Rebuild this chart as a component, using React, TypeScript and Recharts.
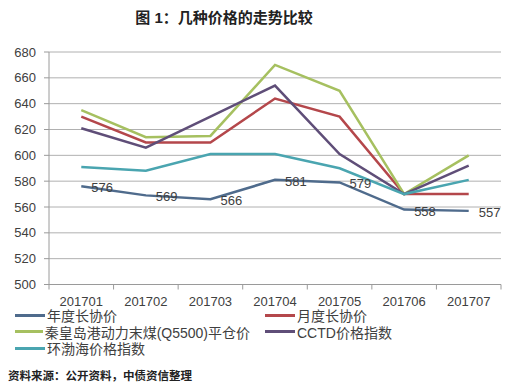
import { LineChart, Line, XAxis, YAxis, CartesianGrid, Legend, LabelList } from 'recharts';

const months = ['201701', '201702', '201703', '201704', '201705', '201706', '201707'];
const annualPrice = [576, 569, 566, 581, 579, 558, 557];
const monthlyPrice = [630, 610, 610, 644, 630, 570, 570];
const qhdPrice = [635, 614, 615, 670, 650, 570, 600];
const cctdIndex = [621, 606, 630, 654, 601, 570, 592];
const bohaiIndex = [591, 588, 601, 601, 590, 570, 581];
const yTicks = [500, 520, 540, 560, 580, 600, 620, 640, 660, 680];

const series = [
  { key: 'annual', name: '年度长协价', color: '#4f6b8c' },
  { key: 'monthly', name: '月度长协价', color: '#b4474b' },
  { key: 'qhd', name: '秦皇岛港动力末煤(Q5500)平仓价', color: '#a6c060' },
  { key: 'cctd', name: 'CCTD价格指数', color: '#5f4e78' },
  { key: 'bohai', name: '环渤海价格指数', color: '#4aa5b0' },
];

const data = months.map((m, i) => ({
  month: m,
  annual: annualPrice[i],
  monthly: monthlyPrice[i],
  qhd: qhdPrice[i],
  cctd: cctdIndex[i],
  bohai: bohaiIndex[i],
}));

const FONT = "'Liberation Sans', 'Noto Sans CJK SC', sans-serif";
const BAND = 452 / 7;

const XTick = (props: any) => {
  const { x, y, payload } = props;
  return (
    <g>
      <line x1={x - BAND / 2} y1={y - 8} x2={x - BAND / 2} y2={y - 3} stroke="#9a9a9a" />
      {payload.index === months.length - 1 && (
        <line x1={x + BAND / 2} y1={y - 8} x2={x + BAND / 2} y2={y - 3} stroke="#9a9a9a" />
      )}
      <text x={x} y={y + 13} textAnchor="middle" fontSize={13} fill="#404040" fontFamily={FONT}>
        {payload.value}
      </text>
    </g>
  );
};

const ValueLabel = (props: any) => {
  const { x, y, value } = props;
  return (
    <text x={x + 10} y={y + 6} fontSize={13} fill="#404040" fontFamily={FONT}>
      {value}
    </text>
  );
};

const LegendBox = () => (
  <div style={{ display: 'grid', gridTemplateColumns: '250px 250px', rowGap: 0, fontFamily: FONT }}>
    {series.map((s) => (
      <div key={s.key} style={{ display: 'flex', alignItems: 'center', height: 16.5, paddingLeft: 15 }}>
        <span style={{ width: 30, height: 3, background: s.color, display: 'inline-block', marginRight: 2 }} />
        <span style={{ fontSize: 14, color: '#404040', whiteSpace: 'nowrap' }}>{s.name}</span>
      </div>
    ))}
  </div>
);

export default function App() {
  return (
    <div style={{ position: 'absolute', left: 0, top: 0, width: 513, height: 382, background: '#fff', fontFamily: FONT }}>
      <div
        style={{
          position: 'absolute',
          top: 6,
          left: 0,
          width: 448,
          textAlign: 'center',
          fontSize: 15,
          fontWeight: 'bold',
          color: '#222',
        }}
      >
        图 1：几种价格的走势比较
      </div>
      <LineChart width={513} height={382} data={data} margin={{ top: 52, right: 12, left: 0, bottom: 18 }}>
        <CartesianGrid vertical={false} stroke="#b0b0b0" />
        <XAxis
          dataKey="month"
          height={30}
          padding={{ left: BAND / 2, right: BAND / 2 }}
          axisLine={{ stroke: '#9a9a9a' }}
          tickLine={false}
          tick={<XTick />}
          interval={0}
        />
        <YAxis
          width={49}
          domain={[500, 680]}
          ticks={yTicks}
          interval={0}
          tickSize={5}
          tickMargin={8}
          axisLine={{ stroke: '#9a9a9a' }}
          tickLine={{ stroke: '#9a9a9a' }}
          tick={{ fontSize: 13, fill: '#404040', fontFamily: FONT }}
        />
        <Legend
          verticalAlign="bottom"
          content={<LegendBox />}
          wrapperStyle={{ left: 0, top: 307, width: 513 }}
        />
        {series.map((s) => (
          <Line
            key={s.key}
            dataKey={s.key}
            name={s.name}
            stroke={s.color}
            strokeWidth={2.5}
            dot={false}
            isAnimationActive={false}
            type="linear"
          >
            {s.key === 'annual' && <LabelList dataKey="annual" content={<ValueLabel />} />}
          </Line>
        ))}
      </LineChart>
      <div style={{ position: 'absolute', left: 8, top: 367, fontSize: 11.5, fontWeight: 'bold', color: '#222' }}>
        资料来源：公开资料，中债资信整理
      </div>
    </div>
  );
}
